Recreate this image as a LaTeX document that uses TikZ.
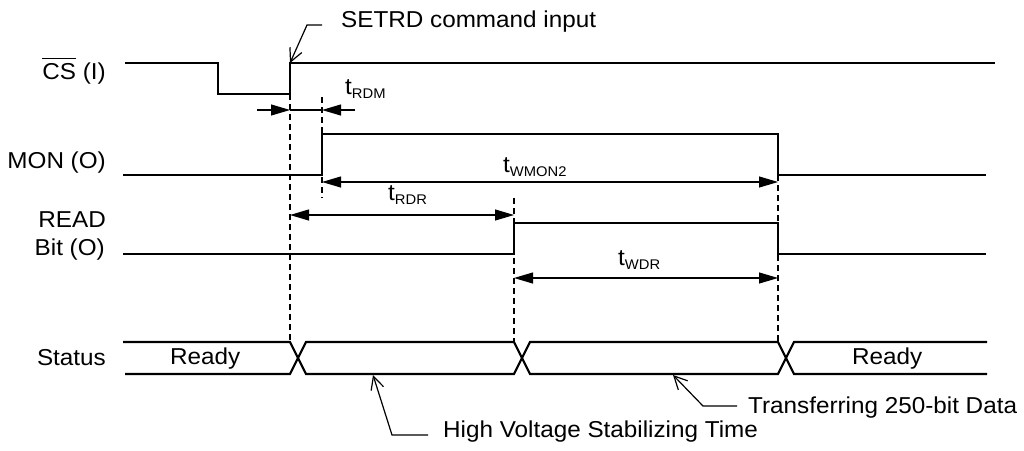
\documentclass[tikz,border=0pt]{standalone}
\usepackage{fontspec}
\setmainfont[FakeStretch=1.055]{Liberation Sans}
\usetikzlibrary{arrows.meta}
\newcommand{\myovl}[1]{\setbox0\hbox{#1}\rlap{\rule[20pt]{\wd0}{1pt}}\box0\relax}
\newcommand{\tsub}[1]{t\raisebox{-4pt}{\fontsize{14}{14}\selectfont #1}}
\begin{document}
\begin{tikzpicture}[x=1pt,y=-1pt,
  sig/.style={line width=2.2pt, line join=miter},
  guide/.style={line width=1.1pt, dash pattern=on 6pt off 4pt},
  dimline/.style={line width=1.1pt},
  dimboth/.style={line width=1.1pt, {Triangle[length=19pt,width=11pt]}-{Triangle[length=19pt,width=11pt]}},
  dimone/.style={line width=1.1pt, -{Triangle[length=19pt,width=11pt]}},
  callout/.style={line width=1.2pt, -{Straight Barb[length=13pt,width=13pt]}},
  lbl/.style={font=\fontsize{23}{27}\selectfont, inner sep=0pt},
]
\useasboundingbox (0,0) rectangle (1024,450);

% signal labels
\node[lbl, anchor=base east] (cs) at (106,79) {\myovl{CS} (I)};
\node[lbl, anchor=base east] (mon) at (106,168) {MON (O)};
\node[lbl, anchor=base east] (read1) at (106,227) {READ};
\node[lbl, anchor=base east] (read2) at (105,255) {Bit (O)};
\node[lbl, anchor=base east] (status) at (106,365) {Status};

% waveforms
\draw[sig] (125,63) -- (218,63) -- (218,94) -- (290,94) -- (290,63) -- (995,63);
\draw[sig] (123,175) -- (322,175) -- (322,134) -- (778,134) -- (778,175) -- (986,175);
\draw[sig] (123,254) -- (514,254) -- (514,223) -- (778,223) -- (778,254) -- (986,254);
\draw[sig] (123,342) -- (290,342) -- (306,374) -- (514,374) -- (530,342) -- (778,342) -- (794,374) -- (987,374);
\draw[sig] (125,374) -- (290,374) -- (306,342) -- (514,342) -- (530,374) -- (778,374) -- (794,342) -- (987,342);

% status texts
\node[lbl, anchor=base west] (ready1) at (170,364) {Ready};
\node[lbl, anchor=base west] (ready2) at (852,364) {Ready};

% guide lines
\draw[guide] (290,94) -- (290,342);
\draw[guide] (322,97) -- (322,198);
\draw[guide] (514,198) -- (514,342);
\draw[guide] (778,175) -- (778,342);

% dimensions
\coordinate (rdmL) at (290,110);
\coordinate (rdmR) at (322,110);
\draw[dimline] (rdmL) -- (rdmR);
\draw[dimone] (257,110) -- (rdmL);
\draw[dimone] (355,110) -- (rdmR);
\node[lbl, anchor=base west] (trdm) at (345,94) {\tsub{RDM}};

\coordinate (wmL) at (322,182);
\coordinate (wmR) at (778,182);
\draw[dimboth] (wmL) -- (wmR);
\node[lbl, anchor=base west] (twmon) at (503,172) {\tsub{WMON2}};

\coordinate (rdrL) at (290,215);
\coordinate (rdrR) at (514,215);
\draw[dimboth] (rdrL) -- (rdrR);
\node[lbl, anchor=base west] (trdr) at (388,200) {\tsub{RDR}};

\coordinate (wdrL) at (514,278);
\coordinate (wdrR) at (778,278);
\draw[dimboth] (wdrL) -- (wdrR);
\node[lbl, anchor=base west] (twdr) at (618,265) {\tsub{WDR}};

% callouts
\node[lbl, anchor=base west] (setrd) at (341,27) {SETRD command input};
\coordinate (setrdTip) at (290,63);
\draw[callout] (322,25) -- (307,25) -- (setrdTip);

\node[lbl, anchor=base west] (hv) at (443,437) {High Voltage Stabilizing Time};
\coordinate (hvTip) at (373,375);
\draw[callout] (428,435) -- (392,435) -- (hvTip);

\node[lbl, anchor=base west] (tr) at (748,413) {Transferring 250-bit Data};
\coordinate (trTip) at (673,375);
\draw[callout] (737,406) -- (703,406) -- (trTip);
\end{tikzpicture}
\end{document}
